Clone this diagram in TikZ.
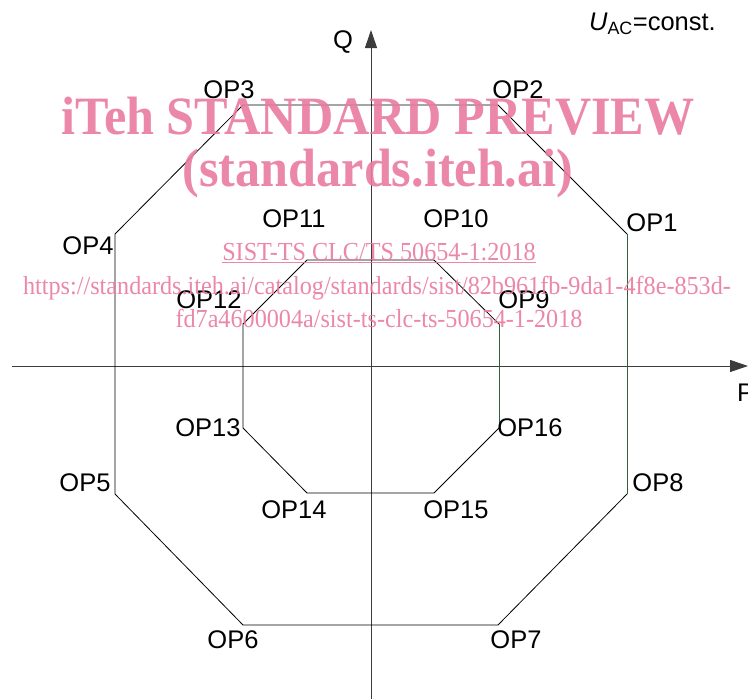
\documentclass[tikz,border=0pt]{standalone}
\usepackage{fontspec}
\setmainfont{Liberation Sans}
\newfontfamily\wmfont{Liberation Serif}
\usetikzlibrary{arrows.meta}
\definecolor{axisgrey}{HTML}{3C3C3C}
\definecolor{opgreen}{HTML}{2F5E3C}
\definecolor{wmpink}{HTML}{E97A9E}

\begin{document}
\begin{tikzpicture}[x=1pt,y=-1pt,
  lbl/.style={inner sep=0pt,font=\fontsize{25.5}{28}\selectfont},
  axis/.style={draw=axisgrey,line width=1pt,-{Triangle[length=18pt,width=12pt]}},
  edge/.style={draw=black,line width=0.8pt},
  gedge/.style={draw=opgreen,line width=0.8pt},
  wm/.style={text=wmpink,inner sep=0pt,text opacity=0.9},
  wmbig/.style={wm,xscale=0.93,font=\wmfont\bfseries\fontsize{54}{60}\selectfont},
  wmsmall/.style={wm,xscale=0.93,font=\wmfont\fontsize{26}{30}\selectfont}]
  \useasboundingbox (0,0) rectangle (748,699);
  % axes
  \coordinate (xs) at (12,366);
  \coordinate (xe) at (748,366);
  \coordinate (ys) at (371,699);
  \coordinate (ye) at (371,30);
  \draw[axis] (xs) -- (xe);
  \draw[axis] (ys) -- (ye);
  \node[lbl,anchor=west] (plbl) at (737,393) {P};
  \node[lbl] (qlbl) at (343,42) {Q};
  \node[lbl,anchor=east] (ulbl) at (716,24) {\textit{U}\textsubscript{AC}=const.};
  % outer octagon
  \coordinate (op1) at (627,234);
  \coordinate (op2) at (498,105);
  \coordinate (op3) at (243,105);
  \coordinate (op4) at (115,234);
  \coordinate (op5) at (115,494);
  \coordinate (op6) at (243,625);
  \coordinate (op7) at (498,625);
  \coordinate (op8) at (627,494);
  \draw[edge] (op8) -- (op7) -- (op6) -- (op5) -- (op4) -- (op3) -- (op2) -- (op1);
  \draw[gedge] (op1) -- (op8);
  % inner octagon
  \coordinate (op9) at (499,324);
  \coordinate (op10) at (434,260);
  \coordinate (op11) at (307,260);
  \coordinate (op12) at (243,324);
  \coordinate (op13) at (243,428);
  \coordinate (op14) at (307,493);
  \coordinate (op15) at (434,493);
  \coordinate (op16) at (499,428);
  \draw[edge] (op16) -- (op15) -- (op14) -- (op13) -- (op12) -- (op11) -- (op10) -- (op9);
  \draw[gedge] (op9) -- (op16);
  % labels
  \node[lbl] (l1) at (652,223) {OP1};
  \node[lbl] (l2) at (518,90) {OP2};
  \node[lbl] (l3) at (229,90) {OP3};
  \node[lbl] (l4) at (88,246) {OP4};
  \node[lbl] (l5) at (85,483) {OP5};
  \node[lbl] (l6) at (233,640) {OP6};
  \node[lbl] (l7) at (516,640) {OP7};
  \node[lbl] (l8) at (658,483) {OP8};
  \node[lbl] (l9) at (524,300) {OP9};
  \node[lbl] (l10) at (456,219) {OP10};
  \node[lbl] (l11) at (294,219) {OP11};
  \node[lbl] (l12) at (209,300) {OP12};
  \node[lbl] (l13) at (208,428) {OP13};
  \node[lbl] (l14) at (294,510) {OP14};
  \node[lbl] (l15) at (456,510) {OP15};
  \node[lbl] (l16) at (530,428) {OP16};
  % watermark
  \node[wmbig] (wm1) at (378,116) {iTeh STANDARD PREVIEW};
  \node[wmbig] (wm2) at (378,174) {(standards.iteh.ai)};
  \node[wmsmall] (wm3) at (379,253) {\underline{SIST-TS CLC/TS 50654-1:2018}};
  \node[wmsmall] (wm4) at (377,288) {https://standards.iteh.ai/catalog/standards/sist/82b961fb-9da1-4f8e-853d-};
  \node[wmsmall] (wm5) at (379,318) {fd7a4600004a/sist-ts-clc-ts-50654-1-2018};
\end{tikzpicture}
\end{document}
